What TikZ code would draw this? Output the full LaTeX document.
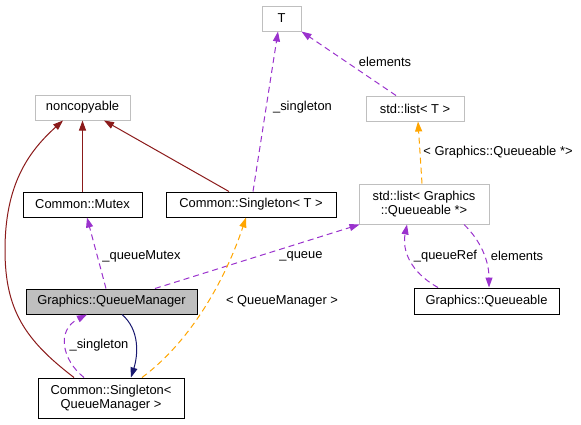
\documentclass[tikz,border=0pt]{standalone}
\usepackage{fontspec}
\setmainfont{Liberation Sans}
\usetikzlibrary{arrows.meta}
\definecolor{grayline}{HTML}{BFBFBF}
\definecolor{purp}{HTML}{9A32CD}
\definecolor{orng}{HTML}{FFA500}
\definecolor{dred}{HTML}{8B1A1A}
\definecolor{mnavy}{HTML}{191970}
\definecolor{qmfill}{HTML}{BFBFBF}
\begin{document}
\begin{tikzpicture}[x=1pt,y=-1pt,
  every node/.style={font=\fontsize{12.9}{14.5}\selectfont, inner sep=0pt},
  cls/.style={draw=black, line width=1pt, fill=white, align=center},
  ucls/.style={draw=grayline, line width=1pt, fill=white, align=center},
  lbl/.style={fill=none},
  tip/.style={-{Triangle[length=10pt,width=7pt]}},
  inh/.style={tip, draw=dred, line width=1pt},
  use/.style={tip, draw=purp, line width=1pt, dash pattern=on 6pt off 4pt},
  tpl/.style={tip, draw=orng, line width=1pt, dash pattern=on 6pt off 4pt},
  pub/.style={tip, draw=mnavy, line width=1pt}
]
\useasboundingbox (0,0) rectangle (581,424);
% nodes
\node[ucls, minimum width=39pt, minimum height=25pt] (T) at (281.5,18.5) {T};
\node[ucls, minimum width=95pt, minimum height=25pt] (nc) at (82.5,107.5) {noncopyable};
\node[ucls, minimum width=98pt, minimum height=25pt] (lt) at (415,108.5) {std::list< T >};
\node[cls, minimum width=119pt, minimum height=25pt] (mx) at (82.5,204.5) {Common::Mutex};
\node[cls, minimum width=170pt, minimum height=25pt] (st) at (251,204.5) {Common::Singleton< T >};
\node[ucls, minimum width=130pt, minimum height=40pt] (lq) at (424,204) {std::list< Graphics\\::Queueable *>};
\node[cls, fill=qmfill, minimum width=171pt, minimum height=25pt] (qm) at (111.5,301.5) {Graphics::QueueManager};
\node[cls, minimum width=145pt, minimum height=26pt] (qu) at (486.5,301) {Graphics::Queueable};
\node[cls, minimum width=146pt, minimum height=40pt] (sq) at (111,398) {Common::Singleton<\\ QueueManager >};
% edges
\draw[inh] (mx.north) -- (nc.south);
\draw[inh] ([xshift=-22pt]st.north) -- ([xshift=21.5pt]nc.south);
\draw[inh] ([xshift=-37pt]sq.north) .. controls (25,340) and (5,310) .. (5,250)
   .. controls (5,185) and (28,152) .. ([xshift=-19.5pt]nc.south);
\draw[use] ([xshift=2pt]st.north) -- ([xshift=-3.5pt]T.south);
\draw[use] ([xshift=-19pt]lt.north) -- (T.south east);
\draw[tpl] ([xshift=-2pt]lq.north) -- ([xshift=3pt]lt.south);
\draw[use] ([xshift=-5.5pt]qm.north) -- ([xshift=4.5pt]mx.south);
\draw[use] ([xshift=43.5pt]qm.north) -- ([xshift=1pt]lq.south west);
\draw[tpl] ([xshift=31pt]sq.north) .. controls (195,338) and (228,272) .. ([xshift=-5pt]st.south);
\draw[pub] ([xshift=10.5pt]qm.south) .. controls (140,330) and (138,355) .. ([xshift=20pt]sq.north);
\draw[use] ([xshift=-27pt]sq.north) .. controls (62,360) and (56,330) .. ([xshift=-24.5pt]qm.south);
\draw[use] ([xshift=-48.5pt]qu.north) .. controls (410,272) and (402,250) .. ([xshift=-17pt]lq.south);
\draw[use] ([xshift=40pt]lq.south) .. controls (480,240) and (489,260) .. ([xshift=2.5pt]qu.north);
% labels
\node[lbl] (l1) at (302.5,107) {\_singleton};
\node[lbl] (l2) at (385,62) {elements};
\node[lbl] (l3) at (498,152) {< Graphics::Queueable *>};
\node[lbl] (l4) at (141.5,256) {\_queueMutex};
\node[lbl] (l5) at (301,256) {\_queue};
\node[lbl] (l6) at (282,301) {< QueueManager >};
\node[lbl] (l7) at (99,345) {\_singleton};
\node[lbl] (l8) at (445.5,256) {\_queueRef};
\node[lbl] (l9) at (517,256) {elements};
\end{tikzpicture}
\end{document}
